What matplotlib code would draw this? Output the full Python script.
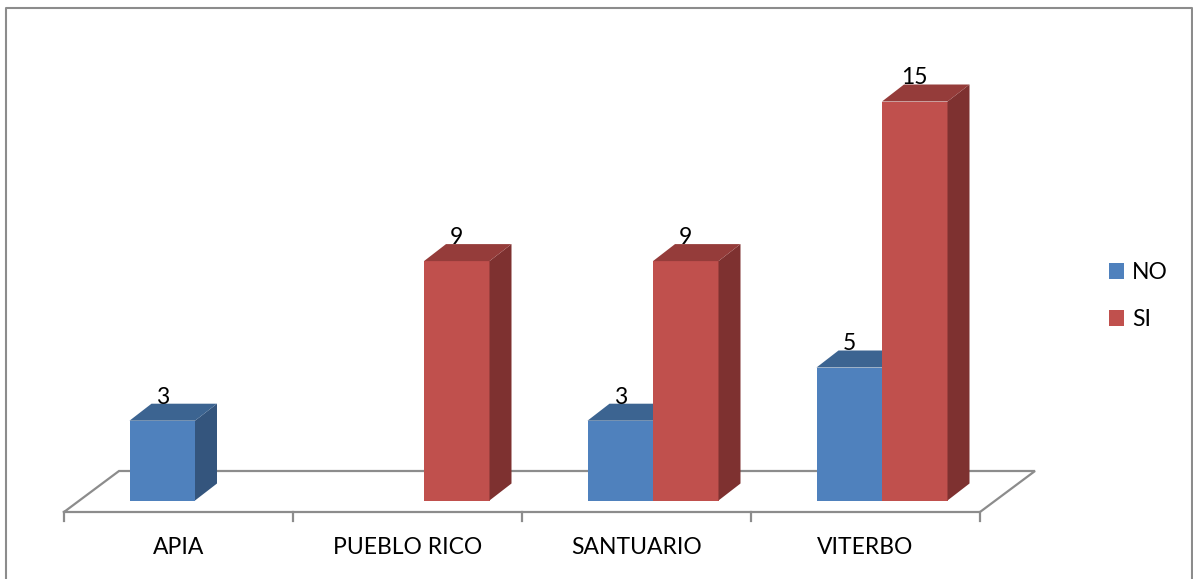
import matplotlib
matplotlib.use("Agg")
import matplotlib.pyplot as plt
from matplotlib.patches import Polygon, Patch
from matplotlib.lines import Line2D

categories = ["APIA", "PUEBLO RICO", "SANTUARIO", "VITERBO"]
no_values = [3, 0, 3, 5]
si_values = [0, 9, 9, 15]
series_names = ["NO", "SI"]

W, H = 1193, 579
fig = plt.figure(figsize=(W / 100, H / 100), dpi=100)
ax = fig.add_axes([0, 0, 1, 1])

# pixel-based scales (one category = 229 px, one unit = 26.6 px)
cat_px, unit_px = 229.0, 26.6
x0_px, base_px = 64, 500.5
ax.set_xlim(-x0_px / cat_px, (W - x0_px) / cat_px)
ax.set_ylim((base_px - H) / unit_px, base_px / unit_px)
ax.axis("off")

font = "Lato"
fs = 16.5

# floor
front_y = -11.5 / unit_px
fdx, fdy = 55 / cat_px, 41 / unit_px
n = len(categories)
floor_col = "#8c8c8c"
ax.plot([0, n, n + fdx, fdx, 0], [front_y, front_y, front_y + fdy, front_y + fdy, front_y],
        color=floor_col, lw=1.6, solid_joinstyle="miter", zorder=1)
for i in range(n + 1):
    ax.plot([i, i], [front_y, front_y - 9 / unit_px], color=floor_col, lw=1.6, zorder=1)
for i, c in enumerate(categories):
    ax.text(i + 0.5, (base_px - 548) / unit_px, c, ha="center", va="center",
            fontsize=fs, family=font, color="black")

# bars with pseudo 3D
bw = 65.5 / cat_px
shift = 16.5 / cat_px
bdx, bdy = 22 / cat_px, 17 / unit_px
colors = {
    "NO": ("#4F81BD", "#3C6491", "#34557D"),
    "SI": ("#C0504D", "#953C3A", "#7E3130"),
}
series = [("NO", no_values, -1), ("SI", si_values, 0)]
for name, vals, off in series:
    front, top, side = colors[name]
    xs = [i + 0.5 + shift + off * bw for i in range(n)]
    for x, v in zip(xs, vals):
        if v <= 0:
            continue
        ax.bar(x, v, width=bw, align="edge", color=front, zorder=3, linewidth=0)
        x1 = x + bw
        ax.add_patch(Polygon([(x1, 0), (x1 + bdx, bdy), (x1 + bdx, v + bdy), (x1, v)],
                             closed=True, facecolor=side, edgecolor="none", zorder=3))
        ax.add_patch(Polygon([(x, v), (x + bdx, v + bdy), (x1 + bdx, v + bdy), (x1, v)],
                             closed=True, facecolor=top, edgecolor="none", zorder=3))
        ax.text(x + bw / 2, v + bdy, str(v), ha="center", va="baseline",
                fontsize=fs, family=font, color="black", zorder=4)

handles = [Patch(facecolor=colors[s][0], edgecolor="none") for s in series_names]
leg = fig.legend(handles, series_names, loc="center left",
                 bbox_to_anchor=(1109 / W, 1 - 296 / H), frameon=False,
                 prop={"family": font, "size": fs}, handlelength=0.66, handleheight=0.66,
                 handletextpad=0.35, labelspacing=1.15, borderpad=0, borderaxespad=0)

# outer border (bottom edge lies outside the picture)
bx0, bx1, by_top = 6.5 / W, 1191.5 / W, 1 - 8 / H
fig.lines.append(Line2D([bx0, bx0, bx1, bx1], [0, by_top, by_top, 0],
                        transform=fig.transFigure, color="#8c8c8c", lw=1.5))

fig.savefig("out.png", dpi=100)
